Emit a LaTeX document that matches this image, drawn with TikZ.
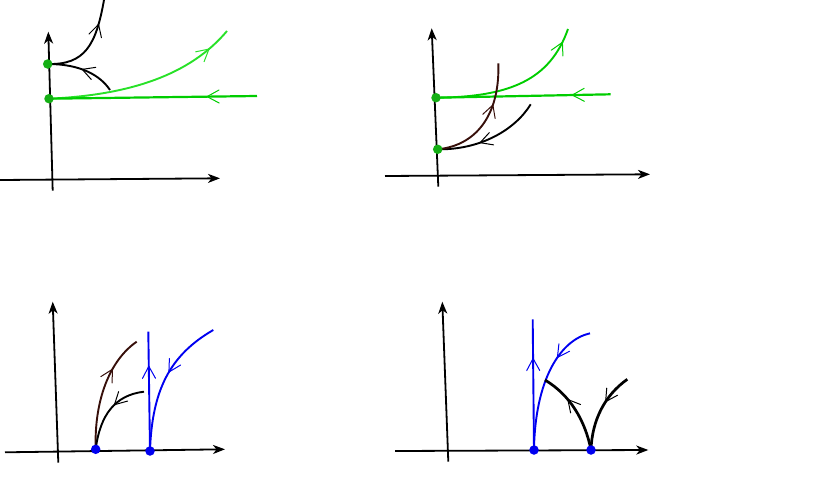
\documentclass[tikz,border=0pt]{standalone}
\usetikzlibrary{arrows.meta,decorations.markings,backgrounds}
\definecolor{pgreen}{RGB}{0,205,0}
\definecolor{pgreenl}{RGB}{40,225,40}
\definecolor{pdot}{RGB}{20,175,20}
\definecolor{pbrown}{RGB}{55,15,10}
\definecolor{pblue}{RGB}{0,0,240}
\tikzset{
  axis/.style={line width=1.8pt,-{Stealth[length=12pt,width=9pt,inset=3.5pt]}},
  curve/.style={line width=1.9pt},
  thickcurve/.style={line width=2.7pt},
  flowmark/.style={postaction={decorate,decoration={markings,
      mark=at position #1 with {\draw[line width=1pt,line cap=round,line join=miter]
        (-12pt,6.5pt) -- (0pt,0pt) -- (-12pt,-6.5pt);}}}},
  gdot/.style={circle,fill=pdot,inner sep=0pt,minimum size=9.5pt},
  bdot/.style={circle,fill=pblue,inner sep=0pt,minimum size=9.5pt},
}
\begin{document}
\begin{tikzpicture}[x=1pt,y=-1pt]
\useasboundingbox (0,0) rectangle (830,482);
% ---------- panel 1 ----------
\node[gdot] (a1) at (47.7,64) {};
\node[gdot] (a2) at (49,98.7) {};
\coordinate (a1u) at (104,0);
\coordinate (a1d) at (110,90);
\coordinate (a2u) at (227,31);
\coordinate (a2r) at (257,96);
\coordinate (ax1a) at (0,180); \coordinate (ax1b) at (220,178.3);
\coordinate (ay1a) at (52.7,190.7); \coordinate (ay1b) at (48.3,31.7);
% ---------- panel 2 ----------
\node[gdot] (b1) at (436,97.7) {};
\node[gdot] (b2) at (437.7,149.3) {};
\coordinate (b1r) at (610.7,94.3);
\coordinate (b1u) at (568,29);
\coordinate (b2u) at (498.3,63.3);
\coordinate (b2r) at (530.7,104.3);
\coordinate (ax2a) at (385,176); \coordinate (ax2b) at (650,174.3);
\coordinate (ay2a) at (438.3,186.7); \coordinate (ay2b) at (431.7,28.3);
% ---------- panel 3 ----------
\node[bdot] (c1) at (95.7,449.3) {};
\node[bdot] (c2) at (150,451) {};
\coordinate (c1u) at (136.7,341.7);
\coordinate (c1r) at (144,391.7);
\coordinate (c2u) at (148.3,331.7);
\coordinate (c2r) at (213.3,330);
\coordinate (ax3a) at (5,452.3); \coordinate (ax3b) at (225,449.3);
\coordinate (ay3a) at (58.3,462.7); \coordinate (ay3b) at (52.7,301.7);
% ---------- panel 4 ----------
\node[bdot] (d1) at (534,450) {};
\node[bdot] (d2) at (591,450) {};
\coordinate (d1u) at (532.7,319.3);
\coordinate (d1r) at (590,333.3);
\coordinate (d2l) at (545,380);
\coordinate (d2r) at (627.3,379.3);
\coordinate (ax4a) at (395,451); \coordinate (ax4b) at (648.3,450);
\coordinate (ay4a) at (448.3,461.7); \coordinate (ay4b) at (442.3,301.7);

\begin{scope}[on background layer]
% axes
\draw[axis] (ax1a) -- (ax1b);
\draw[axis] (ay1a) -- (ay1b);
\draw[axis] (ax2a) -- (ax2b);
\draw[axis] (ay2a) -- (ay2b);
\draw[axis] (ax3a) -- (ax3b);
\draw[axis] (ay3a) -- (ay3b);
\draw[axis] (ax4a) -- (ax4b);
\draw[axis] (ay4a) -- (ay4b);
% panel 1
\draw[curve,flowmark=0.74] (a1.center) .. controls (85,65) and (96,45) .. (a1u);
\draw[curve,flowmark=0.5] (a1d) .. controls (100,75) and (80,64) .. (a1.center);
\draw[curve,pgreenl,flowmark=0.87] (a2.center) .. controls (130,95) and (190,75) .. (a2u);
\draw[line width=2.2pt,pgreen,flowmark=0.24] (a2r) -- (a2.center);
% panel 2
\draw[line width=2.2pt,pgreen,flowmark=0.22] (b1r) -- (b1.center);
\draw[curve,pgreen,flowmark=0.91] (b1.center) .. controls (510,97) and (550,80) .. (b1u);
\draw[curve,flowmark=0.6] (b2r) .. controls (515,130) and (480,150) .. (b2.center);
\draw[curve,pbrown,flowmark=0.64] (b2.center) .. controls (480,145) and (500,110) .. (b2u);
% panel 3
\draw[curve,pbrown,flowmark=0.69] (c1.center) .. controls (94,400) and (110,360) .. (c1u);
\draw[curve,flowmark=0.4] (c1r) .. controls (115,395) and (100,415) .. (c1.center);
\draw[curve,pblue,flowmark=0.71] (c2.center) -- (c2u);
\draw[curve,pblue,flowmark=0.43] (c2r) .. controls (170,355) and (152,390) .. (c2.center);
% panel 4
\draw[curve,pblue,flowmark=0.7] (d1.center) -- (d1u);
\draw[curve,pblue,flowmark=0.3] (d1r) .. controls (560,340) and (535,380) .. (d1.center);
\draw[thickcurve,flowmark=0.65] (d2.center) .. controls (585,420) and (570,395) .. (d2l);
\draw[thickcurve,flowmark=0.38] (d2r) .. controls (605,395) and (592,420) .. (d2.center);
\end{scope}
\end{tikzpicture}
\end{document}
